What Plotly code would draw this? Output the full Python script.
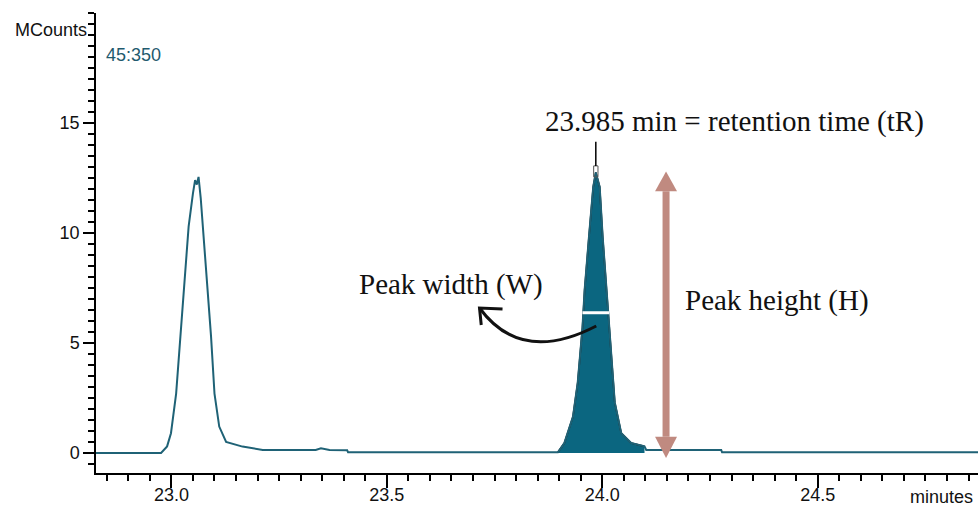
import numpy as np
import plotly.graph_objects as go

# ---- data (minutes, MCounts) ----
time_min = [22.825, 22.976, 22.990, 22.999, 23.011, 23.022, 23.030, 23.040, 23.050,
            23.055, 23.059, 23.063, 23.068, 23.073, 23.084, 23.092, 23.100, 23.111,
            23.127, 23.136, 23.165, 23.212, 23.335, 23.347, 23.367, 23.408, 23.410,
            23.897, 23.912, 23.932, 23.943, 23.954, 23.959, 23.969, 23.979, 23.985,
            23.994, 24.001, 24.013, 24.021, 24.029, 24.044, 24.067, 24.098, 24.102,
            24.276, 24.278, 24.872]
signal = [0.00, 0.00, 0.30, 0.90, 2.70, 5.70, 7.50, 10.30, 11.80,
          12.40, 12.20, 12.55, 11.60, 10.30, 7.50, 5.30, 2.70, 1.20,
          0.50, 0.45, 0.29, 0.14, 0.14, 0.21, 0.14, 0.12, 0.03,
          0.03, 0.45, 1.65, 3.20, 5.70, 7.40, 9.80, 12.10, 12.75,
          12.10, 9.80, 6.65, 4.40, 2.30, 0.90, 0.45, 0.30, 0.14,
          0.14, 0.03, 0.03]

peak_start, peak_end = 23.897, 24.100     # integrated region of main peak
x_ticks = [23.0, 23.5, 24.0, 24.5]
y_ticks = [0, 5, 10, 15]
ion_label = "45:350"

t = np.array(time_min)
s = np.array(signal)

TRACE = "#1f6276"
FILL = "#0b6680"
ARROW = "#c08a80"

fig = go.Figure()

# filled main peak
m = (t >= peak_start) & (t <= peak_end)
fig.add_trace(go.Scatter(x=t[m], y=s[m], mode="lines", fill="tozeroy",
                         fillcolor=FILL, line=dict(color="#111111", width=1.6),
                         hoverinfo="skip", showlegend=False))
# full trace
fig.add_trace(go.Scatter(x=t, y=s, mode="lines",
                         line=dict(color=TRACE, width=2),
                         hoverinfo="skip", showlegend=False))

# apex / retention time
pm = np.where(m)[0]
ia = pm[np.argmax(s[pm])]
rt, hmax = t[ia], s[ia]

# half height width
half = hmax / 2
left_t = np.interp(half, s[pm[0]:ia + 1], t[pm[0]:ia + 1])
right_t = np.interp(half, s[ia:pm[-1] + 1][::-1], t[ia:pm[-1] + 1][::-1])
fig.add_trace(go.Scatter(x=[left_t - 0.002, right_t + 0.002], y=[half, half], mode="lines",
                         line=dict(color="white", width=3),
                         hoverinfo="skip", showlegend=False))

shapes = []
# apex marker box + line
shapes.append(dict(type="rect", xref="x", yref="y", x0=rt - 0.005, x1=rt + 0.005,
                   y0=hmax - 0.2, y1=hmax + 0.3, line=dict(color="#555555", width=1),
                   fillcolor="rgba(0,0,0,0)"))
shapes.append(dict(type="line", xref="x", yref="y", x0=rt, x1=rt, y0=hmax + 0.3,
                   y1=hmax + 1.4, line=dict(color="black", width=1.5)))

# peak height double arrow
ax_t = 24.148
hw = 0.0255
top_tip, top_base = hmax + 0.05, hmax - 0.85
bot_tip, bot_base = -0.23, 0.74
shapes.append(dict(type="line", xref="x", yref="y", x0=ax_t, x1=ax_t,
                   y0=bot_base, y1=top_base, line=dict(color=ARROW, width=7)))
shapes.append(dict(type="path", xref="x", yref="y",
                   path=f"M {ax_t - hw},{top_base} L {ax_t},{top_tip} L {ax_t + hw},{top_base} Z",
                   fillcolor=ARROW, line=dict(width=0)))
shapes.append(dict(type="path", xref="x", yref="y",
                   path=f"M {ax_t - hw},{bot_base} L {ax_t},{bot_tip} L {ax_t + hw},{bot_base} Z",
                   fillcolor=ARROW, line=dict(width=0)))

# curved arrow for peak width
p0 = (23.7151, 6.591)
pc = (23.8119, 4.0)
p2 = (rt + 0.001, 5.773)
shapes.append(dict(type="path", xref="x", yref="y",
                   path=f"M {p0[0]},{p0[1]} Q {pc[0]},{pc[1]} {p2[0]},{p2[1]}",
                   line=dict(color="#111111", width=3)))
shapes.append(dict(type="path", xref="x", yref="y",
                   path=f"M 23.7191,5.818 L {p0[0]},{p0[1]} L 23.7685,6.545",
                   line=dict(color="#111111", width=3)))

serif = dict(family="Liberation Serif", size=29, color="#111111")
sans = dict(family="Liberation Sans", size=18, color="#111111")

annotations = [
    dict(x=24.307, y=15.05, xref="x", yref="y", text=f"{rt:.3f} min = retention time (tR)",
         showarrow=False, font=serif),
    dict(x=23.650, y=7.64, xref="x", yref="y", text="Peak width (W)",
         showarrow=False, font=serif),
    dict(x=24.405, y=6.95, xref="x", yref="y", text="Peak height (H)",
         showarrow=False, font=serif),
    dict(x=0, y=(473 - 30) / 460, xref="paper", yref="paper", xanchor="right",
         yanchor="middle", xshift=-7, text="MCounts", showarrow=False, font=sans),
    dict(x=0, y=(473 - 55) / 460, xref="paper", yref="paper", xanchor="left",
         yanchor="middle", xshift=8, text=ion_label, showarrow=False,
         font=dict(family="Liberation Sans", size=18, color="#1f5a6e")),
    dict(x=1, y=(473 - 497) / 460, xref="paper", yref="paper", xanchor="right",
         yanchor="middle", xshift=-3, text="minutes", showarrow=False, font=sans),
]

fig.update_layout(
    template="none",
    width=980, height=506,
    margin=dict(l=96, r=2, t=13, b=33, pad=0),
    paper_bgcolor="white", plot_bgcolor="white",
    shapes=shapes, annotations=annotations,
    xaxis=dict(range=[22.825, 24.872], tickvals=x_ticks, automargin=False,
               ticktext=[f"{v:.1f}" for v in x_ticks],
               showline=True, linecolor="black", linewidth=1.5,
               ticks="outside", ticklen=13, tickwidth=1.5, tickcolor="black",
               showgrid=False, zeroline=False, tickfont=sans, ticklabelstandoff=-8,
               minor=dict(dtick=0.05, tick0=23.0, ticks="outside", ticklen=6,
                          tickwidth=1.5, tickcolor="black", showgrid=False)),
    yaxis=dict(range=[-0.91, 20.0], tickvals=y_ticks, automargin=False,
               showline=True, linecolor="black", linewidth=1.5,
               ticks="outside", ticklen=11, tickwidth=1.5, tickcolor="black",
               showgrid=False, zeroline=False, tickfont=sans,
               minor=dict(dtick=0.5, tick0=0, ticks="outside", ticklen=6,
                          tickwidth=1.5, tickcolor="black", showgrid=False)),
)

fig.write_html("out.html", config={"displayModeBar": False},
               post_script="document.body.style.margin='0';document.body.style.overflow='hidden';")
